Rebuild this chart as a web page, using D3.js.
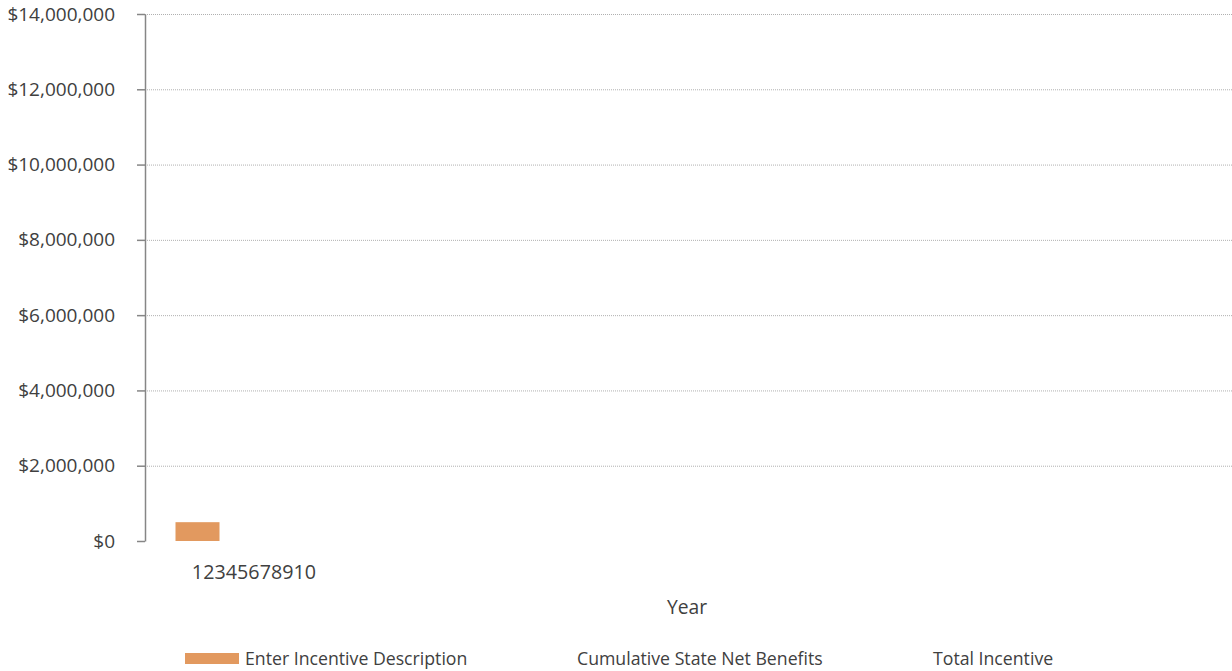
<!DOCTYPE html>
<html>
<head>
<meta charset="utf-8">
<script src="https://cdn.jsdelivr.net/npm/d3@7"></script>
<style>
  body { margin: 0; background: #fff; }
  svg { display: block; font-family: "Open Sans", "Noto Sans", sans-serif; }
  .tick text { fill: #404040; }
</style>
</head>
<body>
<svg width="1232" height="671"></svg>
<script>
    'use strict';

    // data
    const years = [1, 2, 3, 4, 5, 6, 7, 8, 9, 10];
    const incentiveValues = [500000, 0, 0, 0, 0, 0, 0, 0, 0, 0];
    const netBenefits = [null, null, null, null, null, null, null, null, null, null];
    const totalIncentive = [null, null, null, null, null, null, null, null, null, null];
    const yTicks = [0, 2000000, 4000000, 6000000, 8000000, 10000000, 12000000, 14000000];
    const seriesNames = ['Enter Incentive Description', 'Cumulative State Net Benefits', 'Total Incentive'];

(function() {
    const svg = d3.select('svg');
    const W = 1232, plotTop = 14, plotBottom = 541, plotLeft = 145;

    const y = d3.scaleLinear().domain([0, 14000000]).range([plotBottom, plotTop]);
    // categories are squeezed together, one digit apart
    const x = d3.scalePoint().domain(years).range([197.5, 197.5 + 9 * 11.3]);

    // gridlines
    svg.append('g').selectAll('line')
        .data(yTicks.filter(d => d > 0))
        .enter().append('line')
        .attr('x1', plotLeft).attr('x2', W)
        .attr('y1', d => y(d) + 0.5).attr('y2', d => y(d) + 0.5)
        .attr('stroke', '#b0b0b0')
        .attr('stroke-dasharray', '1,1');

    // y axis
    const yAxisG = svg.append('g')
        .attr('transform', `translate(${plotLeft},0)`)
        .call(d3.axisLeft(y)
            .tickValues(yTicks)
            .tickSize(8)
            .tickSizeOuter(0)
            .tickPadding(22)
            .tickFormat(d => '$' + d3.format(',')(d)));
    yAxisG.select('.domain').attr('stroke', '#868686').attr('stroke-width', 1.5);
    yAxisG.selectAll('.tick line').attr('stroke', '#868686').attr('stroke-width', 1.5);
    yAxisG.selectAll('.tick text').attr('font-size', 19).attr('font-family', null);
    yAxisG.attr('font-size', null).attr('font-family', null);

    // bars
    svg.append('g').selectAll('rect')
        .data(years.map((d, i) => ({ year: d, value: incentiveValues[i] })))
        .enter().append('rect')
        .attr('x', d => x(d.year) - 22)
        .attr('width', 44)
        .attr('y', d => y(d.value))
        .attr('height', d => y(0) - y(d.value))
        .attr('fill', '#e2995f');

    // line series (no data yet)
    const line = d3.line()
        .defined(d => d.value != null)
        .x(d => x(d.year))
        .y(d => y(d.value));
    [netBenefits, totalIncentive].forEach(arr => {
        svg.append('path')
            .datum(years.map((d, i) => ({ year: d, value: arr[i] })))
            .attr('fill', 'none')
            .attr('stroke', '#7f7f7f')
            .attr('d', line);
    });

    // x labels
    svg.append('g').selectAll('text')
        .data(years)
        .enter().append('text')
        .attr('x', d => x(d))
        .attr('y', 579)
        .attr('dx', '-0.286em')
        .attr('font-size', 19.7)
        .attr('fill', '#404040')
        .text(d => d);

    svg.append('text')
        .attr('x', 687)
        .attr('y', 614)
        .attr('text-anchor', 'middle')
        .attr('font-size', 19.3)
        .attr('fill', '#404040')
        .text('Year');

    // legend
    const legendX = [245, 577, 933];
    const legend = svg.append('g').selectAll('g')
        .data(seriesNames)
        .enter().append('g')
        .attr('transform', (d, i) => `translate(${legendX[i]},665)`);
    legend.filter((d, i) => i === 0).append('rect')
        .attr('x', -60).attr('y', -12)
        .attr('width', 54).attr('height', 11)
        .attr('fill', '#e2995f');
    legend.append('text')
        .attr('font-size', 17.7)
        .attr('fill', '#404040')
        .text(d => d);
})();
</script>
</body>
</html>
